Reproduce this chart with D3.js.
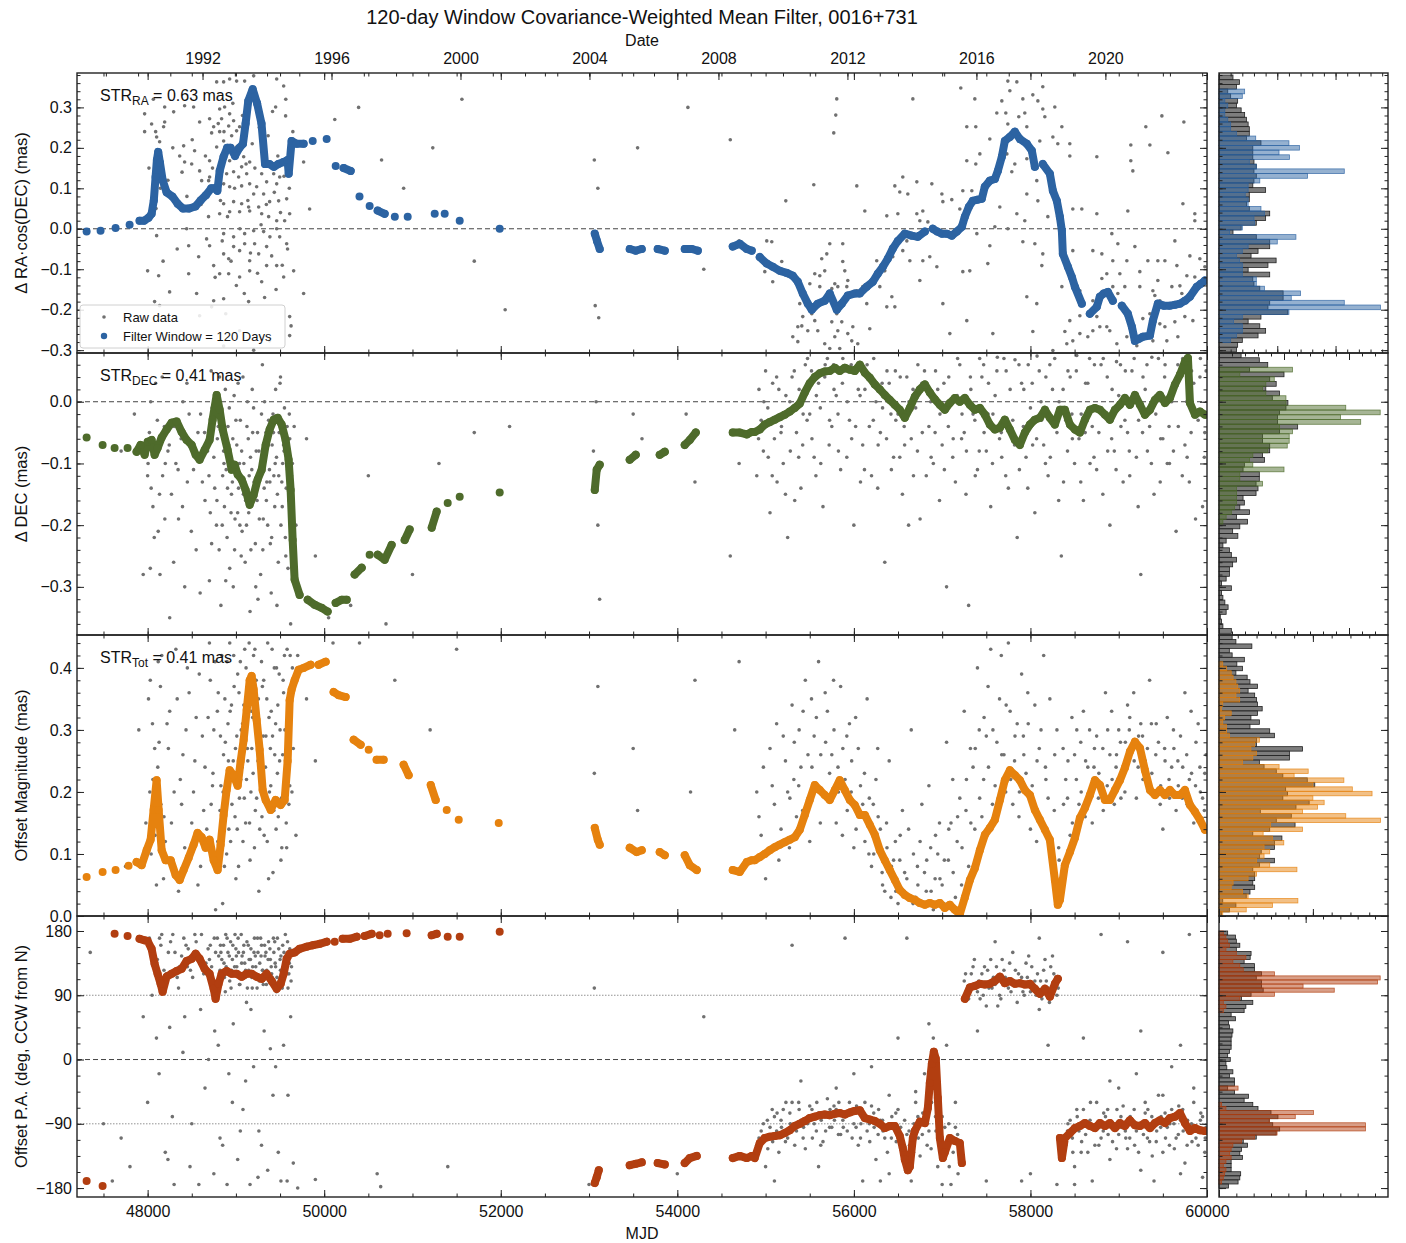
<!DOCTYPE html>
<html>
<head>
<meta charset="utf-8">
<script src="https://cdn.jsdelivr.net/npm/d3@7"></script>
<style>
body { margin: 0; background: #fff; }
svg { font-family: "Liberation Sans", Arial, sans-serif; }
</style>
</head>
<body>
<svg id="chart" width="1406" height="1243"></svg>
<script>
var mjdDomain = [47200, 60000];

// raw offsets, [MJD, value]
var rawRA = [
	[48091,0.24],[48102,0.227],[47966,0.24],[48045,0.259],[48181,0.252],[48193,0.264],[48136,0.215],[48532,0.193],[48408,0.205],[48419,0.165],
	[48499,0.16],[48363,0.18],[48589,0.143],[48612,0.119],[48691,0.119],[48702,0.168],[48816,0.296],[48838,0.272],[48929,0.284],[48974,0.267],
	[49042,0.252],[49008,0.242],[48918,0.254],[48952,0.23],[49099,0.23],[48861,0.217],[48782,0.202],[49008,0.202],[48974,0.185],[49088,0.178],
	[49065,0.153],[48974,0.141],[48895,0.136],[49031,0.128],[49122,0.136],[48861,0.111],[48929,0.104],[49065,0.106],[49156,0.111],[49235,0.104],
	[49348,0.116],[49292,0.136],[49314,0.086],[49428,0.136],[49496,0.128],[49201,0.086],[48974,0.067],[48861,0.062],[49065,0.062],[49144,0.054],
	[49258,0.054],[49382,0.067],[49484,0.069],[49575,0.074],[48816,0.037],[48929,0.042],[49042,0.042],[49156,0.044],[49292,0.037],[49371,0.03],
	[49462,0.02],[49552,0.02],[49609,0.037],[49462,0.111],[49563,0.279],[49450,0.301],[49541,0.353],[49462,0.37],[49201,0.378],[49099,0.365],
	[49008,0.365],[48929,0.37],[48861,0.363],[48782,0.363],[48872,0.301],[48521,0.301],[48419,0.304],[48295,0.289],[48193,0.301],[47966,0.284],
	[48929,0.168],[49156,0.165],[48861,0.168],[48748,0.252],[48725,0.237],[48816,0.24],[48702,0.272],[48589,0.264],[48702,0.128],[49767,0.165],
	[49835,0.049],[48102,-0.017],[48442,0],[48668,-0.025],[48861,-0.012],[48974,-0.02],[49099,-0.012],[49201,-0.005],[49314,-0.007],[49462,0],
	[49496,-0.02],[49348,-0.044],[49212,-0.037],[49099,-0.037],[48974,-0.044],[48861,-0.062],[48578,-0.069],[48465,-0.042],[48702,-0.042],[48748,-0.091],
	[48918,-0.074],[49042,-0.054],[49156,-0.079],[49258,-0.062],[49405,-0.067],[49575,-0.037],[49654,-0.104],[49462,-0.091],[49348,-0.091],[49156,-0.104],
	[49042,-0.119],[48918,-0.111],[48816,-0.111],[48465,-0.111],[48125,-0.116],[48000,-0.104],[48249,-0.156],[48748,-0.178],[48861,-0.173],[49144,-0.18],
	[49292,-0.131],[49541,-0.119],[49609,-0.217],[49767,-0.16],[48725,-0.193],[48079,-0.18],[48136,-0.19],[48589,-0.215],[49042,-0.252],[49382,-0.277],
	[49609,-0.264],[49201,-0.3],[48861,-0.29],
	[48015,0.15],[48065,0.32],[48095,0.05],[48145,0.1],[48175,-0.08],[48230,0.12],[48285,0.2],[48335,-0.05],[48390,0.14],[48445,0.08],
	[48505,0.22],[48555,-0.16],[48605,0.06],[48655,0.18],[48690,0.03],[48735,0.15],[48765,-0.12],[48800,0.26],[48825,0.07],[48845,-0.03],
	[48865,0.24],[48885,-0.21],[48905,0.03],[48925,0.2],[48945,-0.08],[48965,0.31],[48985,0.1],[49005,-0.14],[49025,0.19],[49045,0.0],
	[49075,0.28],[49095,-0.16],[49115,0.16],[49135,0.07],[49165,-0.06],[49185,0.21],[49215,0.15],[49245,-0.11],[49265,0.25],[49285,0.01],
	[49305,0.19],[49325,-0.17],[49345,0.06],[49365,0.23],[49385,-0.02],[49415,0.29],[49435,0.09],[49455,-0.15],[49475,0.18],[49505,0.04],
	[49525,-0.09],[49545,0.13],[49565,0.32],[49585,-0.05],[49605,0.1],[49625,-0.24],[49645,0.24],
	[50120,0.27],[50390,0.3],[50650,0.17],[50900,0.1],[51230,0.2],[51560,0.32],[51700,-0.08],[52050,-0.2],[53060,0.17],[53100,0.1],
	[53070,-0.19],[53110,-0.22],[53550,0.2],[54120,0.3],[54300,-0.1],[54600,0.22],[54700,-0.03],
	[55806,0.321],[55795,0.281],[55772,0.237],[55229,0.069],[55546,0.109],[56033,0.106],[56124,0.044],[56668,0.321],[57211,0.348],[57370,0.321],
	[57744,0.365],[57846,0.363],[57767,0.341],[57676,0.316],[57914,0.321],[58027,0.331],[58140,0.351],[58084,0.316],[58276,0.301],[58140,0.296],
	[57619,0.286],[57721,0.286],[57936,0.286],[57868,0.277],[58163,0.277],[57744,0.259],[57959,0.252],[57279,0.252],[57381,0.252],[58356,0.252],
	[57540,0.222],[58106,0.217],[58254,0.227],[58310,0.21],[58446,0.21],[58446,0.18],[58752,0.178],[59137,0.207],[59353,0.207],[59307,0.252],
	[59489,0.279],[59738,0.264],[59557,0.188],[59137,0.168],[59160,0.143],[57279,0.168],[57427,0.185],[57381,0.16],[57733,0.185],[57823,0.16],
	[57789,0.141],[57959,0.173],[58072,0.119],[57959,0.086],[58084,0.069],[57653,0.054],[57846,0.037],[57936,0.02],[58197,0.03],[58480,0.049],
	[58582,0.049],[58752,0.037],[59103,0.044],[59727,0.062],[59862,0.037],[59862,0.02],[56464,0.106],[56554,0.128],[56713,0.116],[56883,0.111],
	[56520,0.091],[56611,0.086],[56997,0.086],[56373,0.032],[56498,0.037],[56713,0.037],[56781,0.044],[56747,0.02],[56838,0.017],[57008,0.067],
	[57109,0.072],[57200,0.049],[57234,0.094],[57336,0.094],[57257,0.02],[57393,-0.012],[57540,-0.042],[57597,0.005],[57744,0],[57914,-0.032],
	[58050,-0.037],[58140,-0.062],[58129,-0.091],[58480,-0.054],[58707,-0.054],[58809,-0.062],[58990,-0.037],[58922,-0.012],[59183,-0.044],[59636,-0.03],
	[59806,-0.067],[59919,-0.074],[59976,-0.094],[59523,-0.079],[59443,-0.079],[59330,-0.079],[59092,-0.079],[58933,-0.079],[58865,-0.111],[59013,-0.111],
	[59239,-0.106],[59659,-0.091],[59772,-0.116],[59862,-0.119],[59443,-0.128],[59602,-0.143],[59693,-0.141],[59387,-0.153],[59409,-0.165],[59466,-0.178],
	[59715,-0.16],[59273,-0.222],[59353,-0.21],[59387,-0.235],[59466,-0.235],[59523,-0.242],[59636,-0.23],[59749,-0.217],[59840,-0.227],[59670,-0.267],
	[59545,-0.277],[59387,-0.277],[59205,-0.289],[59092,-0.267],[58979,-0.284],[58899,-0.252],[58865,-0.242],[58786,-0.242],[58707,-0.252],[58650,-0.267],
	[58560,-0.259],[58480,-0.277],[58390,-0.254],[58446,-0.227],[58560,-0.215],[58752,-0.217],[58412,-0.284],[58254,-0.301],[58707,-0.178],[58560,-0.153],
	[58469,-0.128],[58809,-0.123],[58933,-0.143],[59069,-0.143],[59239,-0.143],[58990,-0.16],[58356,-0.143],[57574,-0.259],[58027,-0.254],[57959,-0.168],
	[58072,-0.185],[57279,-0.227],[57087,-0.259],[57234,-0.106],[57313,-0.104],[57517,-0.086],[57008,-0.185],[56747,-0.128],[56940,-0.094],[56860,-0.069],
	[56781,-0.079],[56634,-0.079],[56554,-0.054],[56600,-0.03],[56747,-0.02],[56441,-0.069],[56350,-0.104],[56259,-0.079],[56214,-0.136],[56294,-0.143],
	[56430,-0.168],[56464,-0.193],[56373,-0.193],[56146,-0.185],[56101,-0.143],[56033,-0.153],[55931,-0.128],[55920,-0.143],[55897,-0.104],[55874,-0.081],
	[55784,-0.136],[55750,-0.148],[55818,-0.143],[55840,-0.193],[55806,-0.21],[55863,-0.23],[55750,-0.23],[55818,-0.252],[55784,-0.267],[55840,-0.296],
	[55727,-0.296],[55670,-0.284],[55591,-0.252],[55557,-0.227],[55523,-0.21],[55580,-0.193],[55614,-0.143],[55614,-0.116],[55557,-0.111],[55501,-0.136],
	[55636,-0.074],[55693,-0.062],[55727,-0.037],[55874,-0.037],[55670,-0.104],[55410,-0.24],[55365,-0.242],[55478,-0.252],[55308,-0.267],[55365,-0.279],
	[55976,-0.277],[56044,-0.284],[56180,-0.247],[55988,-0.242],[55931,-0.259],[55421,-0.217],[55387,-0.185],[55251,-0.116],[55183,-0.081],[55081,-0.131],
	[55013,-0.03],[55070,-0.032],[54991,-0.106]
];

var rawDEC = [
	[47700,-0.08],[47850,-0.02],[47950,-0.28],[48000,-0.12],[48030,-0.27],[48060,-0.17],[48090,0.03],[48120,-0.21],[48150,-0.06],[48200,-0.1],
	[48250,-0.35],[48300,-0.04],[48350,-0.19],[48400,0.0],[48450,-0.13],[48500,-0.07],[48550,-0.24],[48600,-0.02],[48650,-0.16],[48700,-0.29],
	[48720,0.05],[48750,-0.09],[48780,-0.2],[48800,-0.04],[48830,-0.33],[48850,-0.12],[48880,0.02],[48900,-0.22],[48920,-0.07],[48950,-0.15],
	[48970,-0.3],[49000,-0.03],[49020,-0.18],[49040,-0.1],[49060,-0.25],[49080,0.04],[49100,-0.13],[49120,-0.2],[49140,-0.06],[49160,-0.34],
	[49180,-0.11],[49200,-0.01],[49220,-0.23],[49240,-0.16],[49260,-0.08],[49280,-0.28],[49300,0.06],[49320,-0.14],[49340,-0.05],[49360,-0.2],
	[49380,-0.11],[49400,-0.31],[49420,-0.02],[49440,-0.17],[49460,-0.09],[49480,-0.26],[49500,0.03],[49520,-0.13],[49540,-0.07],[49560,-0.22],
	[49580,-0.04],[49600,-0.16],[49620,-0.36],[49640,-0.1],[49700,-0.3],[49800,-0.06],
	[48020,-0.05],[48040,-0.14],[48070,-0.09],[48110,-0.03],[48140,-0.28],[48170,-0.12],[48190,-0.04],[48230,-0.08],[48270,-0.15],[48320,-0.1],
	[48380,-0.06],[48420,-0.3],[48470,-0.02],[48520,-0.11],[48570,-0.05],[48620,-0.13],[48680,-0.08],[48710,-0.18],[48730,-0.01],[48760,-0.14],
	[48790,-0.06],[48810,-0.24],[48840,-0.02],[48860,-0.08],[48870,-0.17],[48890,-0.11],[48910,-0.04],[48930,-0.27],[48940,-0.09],[48960,-0.13],
	[48980,0.01],[48990,-0.19],[49010,-0.07],[49030,-0.14],[49050,-0.03],[49070,-0.21],[49090,-0.1],[49110,-0.16],[49130,0.0],[49150,-0.12],
	[49170,-0.24],[49190,-0.05],[49210,-0.15],[49230,-0.08],[49250,-0.32],[49270,-0.12],[49290,-0.02],[49310,-0.19],[49330,-0.09],[49350,-0.13],
	[49370,-0.03],[49390,-0.23],[49410,-0.07],[49430,-0.12],[49450,0.02],[49470,-0.15],[49490,-0.05],[49510,-0.2],[49530,-0.1],[49550,-0.01],
	[49570,-0.14],[49590,-0.27],[49610,-0.06],[49630,-0.12],[49660,-0.04],[49680,-0.2],
	[48005,-0.1],[48035,0.0],[48075,-0.22],[48105,-0.08],[48135,-0.15],[48165,0.04],[48195,-0.19],[48245,-0.07],[48295,-0.26],[48345,-0.11],
	[48395,-0.17],[48445,0.03],[48495,-0.21],[48545,-0.09],[48595,-0.31],[48645,-0.05],[48695,-0.12],[48725,-0.23],[48755,-0.03],[48785,-0.16],
	[48815,0.04],[48845,-0.2],[48865,-0.1],[48885,-0.29],[48905,-0.14],[48925,-0.01],[48945,-0.18],[48965,-0.06],[48985,-0.24],[49005,-0.12],
	[49025,0.03],[49045,-0.2],[49065,-0.08],[49085,-0.15],[49105,-0.26],[49125,-0.04],[49145,-0.18],[49165,-0.09],[49185,0.02],[49205,-0.13],
	[49225,-0.3],[49245,-0.05],[49265,-0.19],[49285,-0.1],[49305,-0.24],[49325,0.0],[49345,-0.16],[49365,-0.07],[49385,-0.13],[49405,-0.22],
	[49425,-0.05],[49445,-0.1],[49465,-0.33],[49485,-0.12],[49505,0.04],[49525,-0.17],[49545,-0.08],[49565,-0.25],[49585,-0.11],[49605,-0.02],
	[49625,-0.19],
	[50300,-0.33],[50700,-0.36],[51300,-0.1],[52100,-0.04],[53050,-0.08],[53100,-0.2],[53500,-0.02],[54200,-0.13],[54600,-0.25],
	[49900,-0.25],[50050,-0.35],[50500,-0.12],[51000,-0.28],[51700,-0.05],[53080,0.0],[53120,-0.32],[53600,-0.06],[54100,-0.02],[54700,-0.1],
	[54900,-0.12],[54950,-0.03],[55000,0.05],[55050,-0.18],[55100,-0.06],[55150,0.02],[55200,-0.1],[55250,-0.22],[55300,0.04],[55350,-0.05],
	[55400,-0.14],[55450,0.06],[55500,-0.02],[55550,-0.09],[55600,0.03],[55650,-0.17],[55700,0.07],[55750,-0.04],[55800,0.01],[55850,-0.11],
	[55900,0.05],[55950,-0.03],[56000,-0.2],[56050,0.02],[56100,-0.07],[56150,0.06],[56200,-0.12],[56250,0.0],[56300,-0.05],[56350,-0.26],
	[56400,0.03],[56450,-0.09],[56500,-0.02],[56550,-0.15],[56600,0.04],[56650,-0.06],[56700,-0.01],[56750,-0.19],[56800,0.05],[56850,-0.04],
	[56900,-0.1],[56950,0.02],[57000,-0.07],[57050,-0.3],[57100,0.0],[57150,-0.13],[57200,0.06],[57250,-0.05],[57300,-0.33],[57350,-0.02],
	[57400,-0.11],[57450,0.04],[57500,-0.08],[57550,-0.17],[57600,0.01],[57650,-0.06],[57700,0.07],[57750,-0.14],[57800,-0.03],[57850,-0.22],
	[57900,0.03],[57950,-0.09],[58000,-0.01],[58050,-0.18],[58100,0.05],[58150,-0.07],[58200,-0.12],[58250,0.02],[58300,-0.05],[58350,-0.25],
	[58400,-0.03],[58450,0.04],[58500,-0.1],[58550,-0.06],[58600,-0.16],[58650,0.03],[58700,-0.04],[58750,-0.11],[58800,0.06],[58850,-0.02],
	[58900,-0.2],[58950,-0.08],[59000,0.01],[59050,-0.13],[59100,-0.05],[59150,0.05],[59200,-0.09],[59250,-0.28],[59300,0.02],[59350,-0.04],
	[59400,-0.15],[59450,0.07],[59500,-0.06],[59550,-0.1],[59600,0.0],[59650,-0.21],[59700,0.04],[59750,-0.07],[59800,-0.13],[59850,0.03],
	[59900,-0.03],[59950,-0.17],[59990,0.05],
	[54920,-0.06],[54980,0.0],[55030,-0.09],[55080,0.03],[55130,-0.13],[55180,-0.04],[55230,0.01],[55280,-0.08],[55330,-0.16],[55380,0.02],
	[55420,-0.07],[55470,-0.03],[55520,0.05],[55570,-0.12],[55620,-0.01],[55670,0.04],[55720,-0.07],[55770,0.06],[55820,-0.02],[55870,0.03],
	[55920,-0.09],[55970,0.06],[56020,-0.04],[56070,0.01],[56120,-0.11],[56170,0.04],[56220,-0.03],[56270,-0.14],[56320,0.03],[56370,-0.06],
	[56420,-0.02],[56470,0.05],[56520,-0.09],[56570,-0.04],[56620,-0.2],[56670,0.02],[56720,-0.08],[56770,0.03],[56820,-0.12],[56870,0.0],
	[56920,-0.05],[56970,-0.16],[57020,0.03],[57070,-0.04],[57120,-0.09],[57170,0.01],[57220,-0.06],[57270,-0.15],[57320,0.04],[57370,-0.03],
	[57420,-0.08],[57470,0.06],[57520,-0.02],[57570,-0.1],[57620,0.05],[57670,-0.05],[57720,-0.12],[57770,0.02],[57820,-0.07],[57870,0.06],
	[57920,-0.04],[57970,-0.14],[58020,0.03],[58070,-0.06],[58120,0.0],[58170,-0.1],[58220,0.06],[58270,-0.03],[58320,-0.16],[58370,0.02],
	[58420,-0.08],[58470,-0.02],[58520,0.05],[58570,-0.13],[58620,-0.05],[58670,0.07],[58720,-0.09],[58770,-0.01],[58820,-0.15],[58870,0.04],
	[58920,-0.06],[58970,-0.11],[59020,0.06],[59070,-0.03],[59120,-0.08],[59170,0.0],[59220,-0.17],[59270,-0.05],[59320,0.06],[59370,-0.1],
	[59420,-0.02],[59470,-0.13],[59520,0.04],[59570,-0.04],[59620,-0.08],[59670,0.06],[59720,-0.12],[59770,0.0],[59820,-0.05],[59870,-0.19],
	[59920,0.04],[59970,-0.09],
	[54925,0.02],[54975,-0.08],[55025,-0.01],[55075,-0.12],[55125,0.04],[55175,-0.05],[55225,-0.15],[55275,0.0],[55325,0.05],[55375,-0.09],
	[55425,-0.02],[55475,0.07],[55525,-0.06],[55575,0.01],[55625,-0.1],[55675,0.06],[55725,-0.03],[55775,0.02],[55825,-0.08],[55875,0.07],
	[55925,0.0],[55975,-0.06],[56025,0.05],[56075,-0.13],[56125,0.02],[56175,-0.04],[56225,0.07],[56275,-0.07],[56325,-0.01],[56375,0.05],
	[56425,-0.11],[56475,-0.03],[56525,0.04],[56575,-0.07],[56625,0.0],[56675,-0.12],[56725,0.06],[56775,-0.05],[56825,0.02],[56875,-0.09],
	[56925,0.05],[56975,-0.02],[57025,-0.11],[57075,0.04],[57125,-0.06],[57175,0.07],[57225,-0.02],[57275,-0.08],[57325,0.02],[57375,-0.12],
	[57425,0.07],[57475,-0.05],[57525,0.03],[57575,-0.02],[57625,0.072],[57675,-0.09],[57725,0.05],[57775,-0.04],[57825,0.068],[57875,-0.11],
	[57925,0.02],[57975,0.06],[58025,-0.07],[58075,0.074],[58125,-0.03],[58175,0.04],[58225,-0.09],[58275,0.07],[58325,0.0],[58375,-0.13],
	[58425,0.05],[58475,-0.06],[58525,0.075],[58575,-0.02],[58625,0.03],[58675,-0.1],[58725,0.06],[58775,-0.05],[58825,0.07],[58875,-0.08],
	[58925,0.02],[58975,0.065],[59025,-0.04],[59075,0.05],[59125,-0.12],[59175,0.07],[59225,-0.03],[59275,0.04],[59325,-0.08],[59375,0.072],
	[59425,0.01],[59475,-0.06],[59525,0.06],[59575,-0.1],[59625,0.03],[59675,-0.04],[59725,0.07],[59775,-0.09],[59825,0.05],[59875,-0.02],
	[59925,0.07],[59975,-0.05]
];

var rawMag = [
	[47750,0.08],[47900,0.3],[47980,0.15],[48030,0.38],[48060,0.22],[48100,0.05],[48130,0.28],[48160,0.42],[48200,0.12],[48250,0.33],
	[48300,0.2],[48350,0.04],[48400,0.26],[48450,0.4],[48500,0.15],[48550,0.32],[48600,0.08],[48650,0.24],[48700,0.44],[48720,0.18],
	[48750,0.3],[48780,0.1],[48800,0.36],[48830,0.21],[48850,0.02],[48880,0.28],[48900,0.41],[48920,0.14],[48950,0.34],[48970,0.25],
	[49000,0.06],[49020,0.39],[49040,0.19],[49060,0.3],[49080,0.12],[49100,0.43],[49120,0.22],[49140,0.35],[49160,0.09],[49180,0.27],
	[49200,0.42],[49220,0.17],[49240,0.31],[49260,0.04],[49280,0.24],[49300,0.37],[49320,0.13],[49340,0.29],[49360,0.44],[49380,0.2],
	[49400,0.33],[49420,0.07],[49440,0.26],[49460,0.4],[49480,0.16],[49500,0.3],[49520,0.11],[49540,0.36],[49560,0.23],[49580,0.43],
	[49600,0.18],[49620,0.32],[49650,0.27],[49700,0.42],[49800,0.35],
	[48010,0.35],[48040,0.1],[48080,0.27],[48120,0.41],[48150,0.18],[48180,0.06],[48220,0.31],[48270,0.15],[48320,0.43],[48370,0.22],
	[48420,0.11],[48470,0.36],[48520,0.2],[48570,0.05],[48620,0.29],[48670,0.14],[48710,0.38],[48740,0.23],[48770,0.01],[48790,0.33],
	[48820,0.17],[48840,0.42],[48860,0.26],[48870,0.08],[48890,0.19],[48910,0.31],[48930,0.44],[48940,0.12],[48960,0.22],[48980,0.37],
	[48990,0.16],[49010,0.29],[49030,0.08],[49050,0.41],[49070,0.24],[49090,0.34],[49110,0.15],[49130,0.27],[49150,0.44],[49170,0.2],
	[49190,0.32],[49210,0.11],[49230,0.38],[49250,0.25],[49270,0.14],[49290,0.41],[49310,0.29],[49330,0.2],[49350,0.35],[49370,0.06],
	[49390,0.27],[49410,0.43],[49430,0.17],[49450,0.31],[49470,0.23],[49490,0.39],[49510,0.09],[49530,0.26],[49550,0.42],[49570,0.15],
	[49590,0.34],[49610,0.21],[49640,0.4],[49680,0.13],
	[48025,0.2],[48055,0.31],[48085,0.13],[48115,0.24],[48145,0.37],[48185,0.16],[48235,0.27],[48285,0.09],[48335,0.35],[48385,0.18],
	[48435,0.3],[48485,0.1],[48535,0.25],[48585,0.39],[48635,0.17],[48685,0.32],[48735,0.21],[48765,0.41],[48795,0.12],[48825,0.29],
	[48855,0.2],[48875,0.35],[48895,0.1],[48915,0.25],[48935,0.33],[48955,0.18],[48975,0.42],[48995,0.27],[49015,0.14],[49035,0.36],
	[49055,0.22],[49075,0.31],[49095,0.19],[49115,0.4],[49135,0.25],[49155,0.15],[49175,0.33],[49195,0.23],[49215,0.43],[49235,0.19],
	[49255,0.35],[49275,0.28],[49295,0.16],[49315,0.38],[49335,0.24],[49355,0.12],[49375,0.32],[49395,0.21],[49415,0.29],[49435,0.4],
	[49455,0.14],[49475,0.34],[49495,0.25],[49515,0.19],[49535,0.38],[49555,0.3],[49575,0.11],[49595,0.28],[49615,0.42],[49635,0.2],
	[50400,0.44],[51500,0.43],[53060,0.23],[53100,0.37],[53500,0.27],[54200,0.38],[54650,0.3],
	[49900,0.25],[50100,0.44],[50800,0.38],[51200,0.3],[53120,0.12],[53550,0.17],[54150,0.2],[54700,0.41],
	[54950,0.13],[55050,0.27],[55150,0.09],[55250,0.2],[55300,0.34],[55350,0.16],[55400,0.24],[55450,0.38],[55500,0.12],[55550,0.29],
	[55600,0.41],[55650,0.2],[55700,0.33],[55750,0.26],[55800,0.15],[55850,0.37],[55900,0.22],[55950,0.31],[56000,0.11],[56050,0.27],
	[56100,0.18],[56150,0.35],[56200,0.08],[56250,0.22],[56300,0.14],[56350,0.04],[56400,0.25],[56450,0.09],[56500,0.02],[56550,0.17],
	[56600,0.06],[56650,0.3],[56700,0.03],[56750,0.12],[56800,0.07],[56850,0.21],[56900,0.01],[56950,0.1],[57000,0.05],[57050,0.28],
	[57100,0.15],[57150,0.03],[57200,0.19],[57250,0.33],[57300,0.08],[57350,0.24],[57400,0.4],[57450,0.16],[57500,0.29],[57550,0.43],
	[57600,0.21],[57650,0.35],[57700,0.26],[57750,0.44],[57800,0.18],[57850,0.31],[57900,0.39],[57950,0.23],[58000,0.14],[58050,0.34],
	[58100,0.27],[58150,0.42],[58200,0.19],[58250,0.08],[58300,0.3],[58350,0.04],[58400,0.22],[58450,0.13],[58500,0.26],[58550,0.18],
	[58600,0.33],[58650,0.24],[58700,0.15],[58750,0.29],[58800,0.21],[58850,0.36],[58900,0.26],[58950,0.18],[59000,0.3],[59050,0.23],
	[59100,0.34],[59150,0.27],[59200,0.19],[59250,0.31],[59300,0.25],[59350,0.38],[59400,0.2],[59450,0.28],[59500,0.14],[59550,0.32],
	[59600,0.24],[59650,0.17],[59700,0.29],[59750,0.36],[59800,0.22],[59850,0.15],[59900,0.31],[59950,0.19],[59990,0.26],
	[54900,0.2],[55000,0.06],[55100,0.18],[55200,0.29],[55270,0.11],[55320,0.22],[55380,0.3],[55420,0.17],[55480,0.26],[55520,0.35],
	[55570,0.21],[55620,0.15],[55680,0.28],[55720,0.19],[55770,0.38],[55820,0.24],[55870,0.13],[55920,0.29],[55970,0.2],[56020,0.32],
	[56070,0.16],[56120,0.23],[56170,0.1],[56220,0.18],[56270,0.27],[56320,0.07],[56370,0.15],[56420,0.03],[56470,0.12],[56520,0.09],
	[56570,0.04],[56620,0.14],[56670,0.02],[56720,0.08],[56770,0.18],[56820,0.04],[56870,0.11],[56920,0.06],[56970,0.15],[57020,0.02],
	[57070,0.09],[57120,0.22],[57170,0.12],[57220,0.05],[57270,0.17],[57320,0.27],[57370,0.14],[57420,0.3],[57470,0.22],[57520,0.37],
	[57570,0.18],[57620,0.28],[57670,0.42],[57720,0.2],[57770,0.33],[57820,0.25],[57870,0.16],[57920,0.29],[57970,0.36],[58020,0.21],
	[58070,0.12],[58120,0.3],[58170,0.24],[58220,0.35],[58270,0.17],[58320,0.11],[58370,0.27],[58420,0.19],[58470,0.32],[58520,0.22],
	[58570,0.28],[58620,0.16],[58670,0.3],[58720,0.24],[58770,0.19],[58820,0.27],[58870,0.21],[58920,0.33],[58970,0.24],[59020,0.28],
	[59070,0.2],[59120,0.3],[59170,0.36],[59220,0.24],[59270,0.29],[59320,0.21],[59370,0.31],[59420,0.26],[59470,0.18],[59520,0.27],
	[59570,0.22],[59620,0.3],[59670,0.25],[59720,0.19],[59770,0.26],[59820,0.33],[59870,0.21],[59920,0.24],[59970,0.17],
	[54925,0.16],[54975,0.24],[55025,0.1],[55075,0.21],[55125,0.31],[55175,0.14],[55225,0.25],[55275,0.19],[55325,0.28],[55375,0.21],
	[55425,0.33],[55475,0.18],[55525,0.24],[55575,0.32],[55625,0.26],[55675,0.36],[55725,0.23],[55775,0.3],[55825,0.2],[55875,0.27],
	[55925,0.17],[55975,0.25],[56025,0.14],[56075,0.21],[56125,0.12],[56175,0.19],[56225,0.1],[56275,0.16],[56325,0.05],[56375,0.11],
	[56425,0.08],[56475,0.04],[56525,0.13],[56575,0.07],[56625,0.03],[56675,0.1],[56725,0.05],[56775,0.02],[56825,0.09],[56875,0.04],
	[56925,0.13],[56975,0.06],[57025,0.09],[57075,0.14],[57125,0.07],[57175,0.16],[57225,0.11],[57275,0.22],[57325,0.15],[57375,0.27],
	[57425,0.19],[57475,0.32],[57525,0.24],[57575,0.3],[57625,0.17],[57675,0.26],[57725,0.34],[57775,0.22],[57825,0.29],[57875,0.2],
	[57925,0.26],[57975,0.31],[58025,0.18],[58075,0.25],[58125,0.15],[58175,0.22],[58225,0.12],[58275,0.26],[58325,0.09],[58375,0.18],
	[58425,0.25],[58475,0.15],[58525,0.3],[58575,0.2],[58625,0.25],[58675,0.19],[58725,0.27],[58775,0.23],[58825,0.17],[58875,0.3],
	[58925,0.22],[58975,0.26],[59025,0.19],[59075,0.28],[59125,0.32],[59175,0.25],[59225,0.29],[59275,0.22],[59325,0.27],[59375,0.23],
	[59425,0.31],[59475,0.21],[59525,0.25],[59575,0.19],[59625,0.27],[59675,0.21],[59725,0.24],[59775,0.18],[59825,0.23],[59875,0.28],
	[59925,0.2],[59975,0.23]
];

var rawPA = [
	[47350,150],[47500,-90],[47600,-170],[47700,-110],[47800,-150],[47950,60],[48000,-60],[48050,90],[48100,30],[48150,160],
	[48200,-130],[48250,45],[48300,-175],[48350,100],[48400,10],[48450,130],[48500,-90],[48550,165],[48600,70],[48650,-40],
	[48700,140],[48750,-160],[48780,110],[48800,20],[48830,150],[48850,-120],[48880,95],[48900,170],[48920,-20],[48950,125],
	[48970,50],[49000,155],[49020,-140],[49040,105],[49060,175],[49080,-70],[49100,135],[49120,80],[49140,160],[49160,-175],
	[49180,115],[49200,-10],[49220,145],[49240,100],[49260,-100],[49280,170],[49300,125],[49320,40],[49340,150],[49360,-155],
	[49380,110],[49400,130],[49420,-50],[49440,165],[49460,95],[49480,-130],[49500,140],[49520,115],[49540,20],[49560,175],
	[49580,-170],[49600,120],[49620,60],[49650,-145],[49700,-180],[49900,-168],
	[48020,170],[48060,150],[48110,140],[48160,175],[48210,120],[48260,165],[48310,150],[48360,130],[48410,170],[48460,155],
	[48510,115],[48560,145],[48610,175],[48660,135],[48710,160],[48740,105],[48770,150],[48790,170],[48820,125],[48840,140],
	[48860,160],[48870,115],[48890,130],[48910,150],[48930,110],[48940,165],[48960,140],[48980,120],[48990,175],[49010,130],
	[49030,150],[49050,115],[49070,145],[49090,160],[49110,125],[49130,100],[49150,140],[49170,155],[49190,130],[49210,170],
	[49230,115],[49250,150],[49270,135],[49290,160],[49310,105],[49330,145],[49350,125],[49370,165],[49390,140],[49410,115],
	[49430,150],[49450,130],[49470,170],[49490,110],[49510,145],[49530,160],[49550,125],[49570,140],[49590,100],[49610,155],
	[49630,130],
	[48035,160],[48085,135],[48135,170],[48185,125],[48235,150],[48285,175],[48335,115],[48385,145],[48435,160],[48485,125],
	[48535,175],[48585,140],[48635,120],[48685,155],[48725,130],[48755,170],[48785,100],[48805,145],[48825,160],[48845,115],
	[48865,135],[48885,175],[48905,120],[48925,145],[48945,100],[48965,160],[48985,130],[49005,145],[49025,170],[49045,105],
	[49065,135],[49085,150],[49105,115],[49125,165],[49145,125],[49165,140],[49185,100],[49205,150],[49225,130],[49245,170],
	[49265,110],[49285,145],[49305,125],[49325,160],[49345,105],[49365,140],[49385,155],[49405,120],[49425,170],[49445,135],
	[49465,115],[49485,155],[49505,125],[49525,100],[49545,150],[49565,120],[49585,165],[49605,135],[49625,110],
	[48130,-20],[48280,-80],[48480,-150],[48690,0],[48820,-110],[48960,-60],[49110,-30],[49170,70],[49290,-120],[49390,15],
	[49510,-170],[49590,-50],[48580,-175],[48900,-175],[49250,-165],[49050,-100],[48420,60],[48230,-140],[49450,-10],[48760,40],
	[50600,-160],[50640,-178],[51400,-150],[53000,-175],[53060,100],[54000,-160],[54300,60],
	[54900,-120],[55000,-150],[55050,-95],[55100,-80],[55150,-130],[55200,-70],[55250,-110],[55300,-60],[55350,-100],[55400,-85],
	[55450,-125],[55500,-65],[55550,-90],[55600,-75],[55650,-115],[55700,-55],[55750,-95],[55800,-70],[55850,-105],[55900,-80],
	[55950,-60],[56000,-90],[56050,-120],[56100,-75],[56150,-100],[56200,-65],[56250,-140],[56300,-85],[56350,-110],[56400,-160],
	[56450,-95],[56500,-70],[56550,-130],[56600,-105],[56650,-170],[56700,-60],[56750,-135],[56800,-20],[56850,-100],[56900,30],
	[56950,-150],[57000,-80],[57050,-120],[57100,-175],[57150,-95],[57200,-140],
	[54950,-100],[55020,-85],[55080,-115],[55130,-75],[55180,-95],[55230,-60],[55280,-90],[55330,-120],[55380,-70],[55430,-95],
	[55480,-80],[55530,-110],[55580,-60],[55630,-85],[55680,-100],[55730,-70],[55780,-85],[55830,-60],[55880,-95],[55930,-75],
	[55980,-110],[56030,-65],[56080,-90],[56130,-80],[56180,-115],[56230,-95],[56280,-70],[56330,-100],[56380,-130],[56430,-80],
	[56480,-115],[56530,-95],[56580,-150],[56630,-120],[56680,-90],[56730,-110],[56780,-75],[56830,-120],[56880,-60],[56930,-100],
	[56980,-130],[57030,-95],[57080,-150],[57130,-115],[57180,-160],
	[54925,-110],[54975,-90],[55025,-125],[55075,-70],[55125,-100],[55175,-85],[55225,-115],[55275,-75],[55325,-95],[55375,-60],
	[55425,-110],[55475,-90],[55525,-70],[55575,-100],[55625,-120],[55675,-80],[55725,-95],[55775,-65],[55825,-105],[55875,-85],
	[55925,-100],[55975,-70],[56025,-95],[56075,-110],[56125,-60],[56175,-90],[56225,-75],[56275,-105],[56325,-85],[56375,-95],
	[56425,-110],[56475,-75],[56525,-120],[56575,-85],[56625,-100],[56675,-130],[56725,-80],[56775,-105],[56825,-90],[56875,-125],
	[56925,-80],[56975,-110],[57025,-140],[57075,-90],[57125,-130],[57175,-105],[57215,-125],
	[55100,-170],[55600,-150],[56000,-20],[56300,-170],[56500,30],[56700,-45],[56850,50],[57050,20],[56200,-10],[57150,-60],
	[55300,160],[55900,170],[56100,-170],[56600,170],[57000,-175],[57500,-170],[58000,-160],[58300,-175],[58800,175],[59100,165],
	[59500,150],[59800,175],[58600,30],[59250,40],[59700,20],[55400,-30],[55800,-40],[56400,-50],
	[57250,110],[57300,85],[57350,130],[57400,95],[57450,120],[57500,75],[57550,140],[57600,105],[57650,90],[57700,125],
	[57750,100],[57800,150],[57850,80],[57900,115],[57950,135],[58000,95],[58050,110],[58100,70],[58150,125],[58200,100],
	[58250,145],[58300,90],
	[57270,95],[57330,120],[57380,105],[57430,85],[57480,130],[57530,100],[57580,115],[57630,75],[57680,140],[57730,110],
	[57780,95],[57830,125],[57880,105],[57930,90],[57980,145],[58030,100],[58080,120],[58130,85],[58180,110],[58230,130],
	[58280,100],[58330,115],
	[57265,120],[57315,100],[57365,140],[57415,110],[57465,90],[57515,125],[57565,100],[57615,130],[57665,85],[57715,115],
	[57765,135],[57815,105],[57865,120],[57915,95],[57965,115],[58015,130],[58065,90],[58115,110],[58165,140],[58215,80],
	[58265,120],[58315,100],
	[57400,40],[57600,165],[57900,-170],[58100,170],[58200,20],
	[58400,-120],[58450,-85],[58500,-150],[58550,-100],[58600,-70],[58650,-130],[58700,-95],[58750,-60],[58800,-110],[58850,-80],
	[58900,-140],[58950,-90],[59000,-105],[59050,-65],[59100,-125],[59150,-85],[59200,-100],[59250,-155],[59300,-75],[59350,-115],
	[59400,-90],[59450,-50],[59500,-130],[59550,-95],[59600,-70],[59650,-110],[59700,-85],[59750,-145],[59800,-100],[59850,-60],
	[59900,-120],[59950,-80],[59990,-95],
	[58420,-100],[58480,-130],[58530,-80],[58580,-115],[58630,-90],[58680,-60],[58730,-120],[58780,-95],[58830,-75],[58880,-105],
	[58930,-115],[58980,-70],[59030,-95],[59080,-110],[59130,-80],[59180,-120],[59230,-90],[59280,-105],[59330,-70],[59380,-135],
	[59430,-100],[59480,-80],[59530,-110],[59580,-90],[59630,-125],[59680,-65],[59730,-100],[59780,-85],[59830,-115],[59880,-95],
	[59930,-75],[59980,-110],
	[58425,-90],[58475,-110],[58525,-70],[58575,-130],[58625,-105],[58675,-85],[58725,-95],[58775,-120],[58825,-100],[58875,-70],
	[58925,-90],[58975,-125],[59025,-80],[59075,-100],[59125,-110],[59175,-70],[59225,-130],[59275,-90],[59325,-110],[59375,-80],
	[59425,-115],[59475,-95],[59525,-75],[59575,-120],[59625,-90],[59675,-105],[59725,-70],[59775,-120],[59825,-90],[59875,-110],
	[59925,-85],[59975,-130],
	[58500,-175],[58700,-170],[59000,-40],[59200,-20],[59400,-170],[59600,-10],[59700,-160],[59850,-40],[59950,-165],[58900,-30],
	[59300,-60],[59500,-50]
];

// 120-day filtered series, [MJD, value]
var filtRA = [
	[47309,-0.007],[47467,-0.005],[47637,0.002],[47796,0.01],
	[47909,0.02],[47960,0.02],[48010,0.027],[48045,0.037],[48070,0.07],[48090,0.128],[48105,0.17],[48120,0.19],[48140,0.163],[48170,0.12],
	[48215,0.09],[48280,0.08],[48340,0.062],[48400,0.05],[48470,0.05],[48540,0.055],[48600,0.07],[48660,0.083],[48720,0.1],[48760,0.1],
	[48790,0.094],[48816,0.143],[48860,0.178],[48900,0.2],[48940,0.2],[48990,0.18],[49040,0.2],[49080,0.21],[49110,0.26],[49140,0.316],
	[49190,0.345],[49240,0.31],[49290,0.26],[49330,0.16],[49380,0.16],[49430,0.153],[49480,0.16],[49540,0.165],[49585,0.17],[49598,0.136],
	[49631,0.217],[49688,0.21],[49767,0.21],[49870,0.217],[50028,0.222],
	[50130,0.155],[50220,0.15],[50300,0.143],[50400,0.08],[50515,0.056],[50606,0.045],[50685,0.037],[50800,0.03],[50946,0.03],[51252,0.037],
	[51365,0.037],[51535,0.02],[51988,0.0],
	[53065,-0.012],[53090,-0.03],[53121,-0.05],[53461,-0.05],[53529,-0.054],[53597,-0.05],[53778,-0.05],[53858,-0.054],[54084,-0.05],[54164,-0.05],
	[54232,-0.054],[54628,-0.044],[54707,-0.037],[54787,-0.05],[54843,-0.054],
	[54934,-0.07],[55013,-0.086],[55081,-0.094],[55161,-0.104],[55240,-0.109],[55308,-0.116],[55365,-0.131],[55421,-0.16],[55478,-0.185],[55523,-0.2],
	[55591,-0.185],[55670,-0.178],[55727,-0.16],[55806,-0.2],[55863,-0.185],[55931,-0.165],[56010,-0.16],[56067,-0.16],[56146,-0.143],[56214,-0.131],
	[56271,-0.111],[56328,-0.094],[56384,-0.074],[56441,-0.049],[56498,-0.03],[56577,-0.012],[56656,-0.017],[56724,-0.02],[56804,-0.007],[56894,0],
	[56945,-0.007],[56996,-0.012],[57053,-0.012],[57109,-0.017],[57166,-0.007],[57223,0.005],[57257,0.03],[57302,0.054],[57347,0.069],[57400,0.072],
	[57449,0.074],[57483,0.104],[57540,0.119],[57597,0.123],[57631,0.143],[57676,0.178],[57710,0.217],[57767,0.227],[57823,0.24],[57880,0.222],
	[57959,0.21],[58016,0.193],[58050,0.153],[58140,0.16],[58220,0.136],[58254,0.094],[58299,0.069],[58333,0.03],[58356,-0.005],[58367,-0.062],
	[58424,-0.094],[58469,-0.119],[58503,-0.143],[58582,-0.185],[58673,-0.21],[58752,-0.193],[58786,-0.168],[58830,-0.16],[58877,-0.156],[58933,-0.178],
	[59035,-0.19],[59103,-0.21],[59149,-0.242],[59183,-0.277],[59228,-0.272],[59273,-0.267],[59353,-0.264],[59387,-0.227],[59443,-0.185],[59510,-0.19],
	[59579,-0.19],[59636,-0.188],[59693,-0.185],[59750,-0.178],[59806,-0.168],[59885,-0.143],[59930,-0.136],[59976,-0.128]
];

var filtDEC = [
	[47309,-0.058],[47490,-0.07],[47626,-0.075],[47773,-0.075],[47875,-0.081],[47920,-0.07],[47966,-0.086],[48000,-0.065],[48045,-0.062],[48079,-0.086],
	[48113,-0.075],[48159,-0.058],[48215,-0.045],[48272,-0.034],[48329,-0.032],[48385,-0.049],[48442,-0.062],[48499,-0.07],[48544,-0.086],[48589,-0.094],
	[48646,-0.078],[48702,-0.062],[48736,-0.029],[48782,0.011],[48816,-0.013],[48850,-0.045],[48906,-0.078],[48952,-0.11],[48985,-0.102],[49020,-0.118],
	[49065,-0.126],[49110,-0.143],[49156,-0.167],[49201,-0.151],[49246,-0.126],[49292,-0.11],[49337,-0.07],[49382,-0.045],[49428,-0.029],[49473,-0.026],
	[49518,-0.037],[49563,-0.062],[49597,-0.094],[49620,-0.143],[49643,-0.224],[49665,-0.288],[49722,-0.313],[49813,-0.321],[49892,-0.329],[49971,-0.334],
	[50039,-0.34],[50130,-0.326],[50198,-0.321],[50255,-0.321],[50345,-0.28],[50425,-0.269],[50515,-0.248],[50606,-0.248],[50685,-0.256],[50764,-0.232],
	[50912,-0.224],[50968,-0.207],[51218,-0.204],[51274,-0.178],[51399,-0.164],[51535,-0.154],[51988,-0.147],
	[53065,-0.143],[53087,-0.11],[53121,-0.102],[53461,-0.094],[53529,-0.086],[53801,-0.086],[53858,-0.081],[54084,-0.07],[54141,-0.062],[54209,-0.05],
	[54628,-0.05],[54707,-0.05],[54787,-0.053],[54843,-0.049],
	[54877,-0.049],[54934,-0.045],[54990,-0.037],[55047,-0.033],[55104,-0.029],[55160,-0.025],[55217,-0.021],[55274,-0.016],[55330,-0.01],[55387,-0.003],
	[55444,0.015],[55500,0.03],[55557,0.04],[55614,0.046],[55670,0.049],[55727,0.05],[55784,0.055],[55840,0.05],[55897,0.055],[55954,0.052],
	[56010,0.05],[56067,0.06],[56124,0.047],[56180,0.039],[56237,0.028],[56294,0.02],[56350,0.011],[56407,0.003],[56464,-0.005],[56520,-0.013],
	[56577,-0.026],[56634,-0.01],[56690,0.008],[56747,0.02],[56804,0.028],[56860,0.015],[56917,0.004],[56974,-0.005],[57030,-0.013],[57087,-0.002],
	[57144,0.006],[57200,0.0],[57257,0.006],[57314,-0.005],[57370,-0.013],[57427,-0.01],[57484,-0.021],[57540,-0.037],[57597,-0.045],[57654,-0.042],
	[57710,-0.029],[57767,-0.045],[57824,-0.062],[57880,-0.07],[57937,-0.05],[57994,-0.037],[58050,-0.029],[58107,-0.026],[58164,-0.013],[58220,-0.026],
	[58277,-0.037],[58334,-0.013],[58390,-0.013],[58447,-0.037],[58504,-0.045],[58560,-0.05],[58617,-0.029],[58674,-0.013],[58730,-0.01],[58787,-0.013],
	[58844,-0.021],[58900,-0.029],[58957,-0.013],[59014,-0.005],[59070,0.006],[59127,-0.005],[59184,0.011],[59240,-0.005],[59297,-0.021],[59354,-0.013],
	[59410,0.003],[59467,0.011],[59524,-0.002],[59580,0.006],[59637,0.028],[59694,0.044],[59750,0.065],[59784,0.071],[59807,-0.002],[59864,-0.021],
	[59920,-0.016],[59977,-0.021]
];

var filtMag = [
	[47309,0.063],[47490,0.071],[47637,0.074],[47784,0.081],[47875,0.087],[47932,0.082],[47989,0.106],[48034,0.123],[48068,0.171],[48102,0.219],
	[48125,0.171],[48159,0.106],[48204,0.09],[48261,0.09],[48317,0.066],[48363,0.058],[48408,0.074],[48465,0.094],[48521,0.115],[48566,0.134],
	[48612,0.127],[48657,0.11],[48702,0.123],[48748,0.09],[48793,0.074],[48827,0.115],[48861,0.163],[48895,0.203],[48929,0.235],[48974,0.227],
	[49020,0.21],[49054,0.25],[49088,0.284],[49122,0.332],[49156,0.38],[49178,0.387],[49201,0.365],[49235,0.316],[49269,0.268],[49303,0.203],
	[49337,0.187],[49394,0.171],[49450,0.187],[49507,0.179],[49552,0.187],[49586,0.25],[49609,0.348],[49631,0.365],[49665,0.38],[49711,0.397],
	[49767,0.4],[49847,0.405],[49937,0.405],[50017,0.41],
	[50107,0.361],[50164,0.356],[50243,0.353],[50334,0.284],[50413,0.276],[50504,0.268],[50594,0.252],[50673,0.252],[50900,0.244],[50957,0.227],
	[51207,0.211],[51263,0.187],[51388,0.171],[51524,0.155],[51977,0.15],
	[53065,0.142],[53099,0.123],[53121,0.115],[53461,0.11],[53540,0.103],[53597,0.106],[53801,0.103],[53858,0.098],[54084,0.098],[54141,0.082],
	[54220,0.074],[54628,0.074],[54707,0.071],[54787,0.087],[54843,0.09],
	[54877,0.09],[54934,0.095],[54990,0.1],[55047,0.106],[55104,0.111],[55160,0.115],[55217,0.119],[55274,0.123],[55330,0.127],[55387,0.139],
	[55444,0.163],[55500,0.187],[55557,0.211],[55614,0.203],[55670,0.195],[55727,0.187],[55784,0.203],[55840,0.219],[55897,0.203],[55954,0.187],
	[56010,0.179],[56067,0.163],[56124,0.163],[56180,0.147],[56237,0.131],[56294,0.106],[56350,0.09],[56407,0.074],[56464,0.058],[56520,0.042],
	[56577,0.034],[56634,0.029],[56690,0.026],[56747,0.021],[56804,0.018],[56860,0.021],[56917,0.018],[56974,0.021],[57030,0.013],[57087,0.018],
	[57144,0.01],[57200,0.003],[57257,0.03],[57314,0.058],[57370,0.077],[57427,0.106],[57484,0.131],[57540,0.142],[57597,0.155],[57654,0.187],
	[57710,0.219],[57767,0.235],[57824,0.227],[57880,0.219],[57937,0.203],[57994,0.195],[58050,0.171],[58107,0.155],[58164,0.139],[58220,0.123],
	[58277,0.058],[58310,0.018],[58334,0.026],[58390,0.082],[58447,0.103],[58504,0.126],[58560,0.158],[58617,0.174],[58674,0.195],[58730,0.219],
	[58787,0.211],[58844,0.187],[58900,0.187],[58957,0.203],[59014,0.219],[59070,0.239],[59127,0.265],[59184,0.281],[59240,0.271],[59297,0.235],
	[59354,0.203],[59410,0.195],[59467,0.203],[59524,0.195],[59580,0.203],[59637,0.195],[59694,0.195],[59750,0.203],[59807,0.179],[59864,0.168],
	[59920,0.155],[59977,0.139]
];

var filtPA = [
	[47309,-170],[47490,-177],[47626,176],[47773,173],[47909,169],[47966,167],[48000,166],[48045,155],[48079,134],[48113,120],
	[48147,106],[48170,95],[48215,116],[48272,120],[48329,124],[48385,127],[48442,138],[48499,141],[48544,148],[48589,141],
	[48646,127],[48702,120],[48748,99],[48770,85],[48804,106],[48838,120],[48895,124],[48952,120],[49008,120],[49065,116],
	[49122,120],[49178,120],[49235,116],[49292,113],[49348,120],[49405,110],[49462,99],[49507,106],[49541,120],[49575,141],
	[49609,148],[49665,150],[49722,155],[49801,158],[49869,160],[49949,162],[50028,165],
	[50119,165],[50209,169],[50289,169],[50368,172],[50458,173],[50538,176],[50628,174],[50719,176],[50934,177],[51218,174],
	[51274,176],[51399,172],[51535,172],[51988,179],
	[53065,-173],[53087,-165],[53110,-155],[53461,-148],[53529,-146],[53597,-144],[53778,-145],[53858,-147],[54084,-145],[54141,-138],
	[54220,-135],[54628,-138],[54707,-135],[54787,-138],[54843,-135],
	[54877,-138],[54934,-117],[54990,-110],[55047,-108],[55104,-107],[55160,-106],[55217,-103],[55274,-99],[55330,-93],[55387,-90],
	[55444,-86],[55500,-82],[55557,-80],[55614,-78],[55670,-77],[55727,-78],[55784,-76],[55840,-75],[55897,-77],[55954,-74],
	[56010,-72],[56067,-71],[56124,-82],[56180,-84],[56237,-86],[56294,-90],[56350,-96],[56407,-93],[56464,-93],[56520,-107],
	[56554,-124],[56577,-140],[56611,-155],[56634,-150],[56668,-110],[56690,-100],[56747,-87],[56804,-89],[56838,-68],[56860,-33],
	[56883,-6],[56906,11],[56928,1],[56951,-54],[56974,-110],[57008,-138],[57030,-130],[57087,-110],[57144,-114],[57200,-117],
	[57223,-145],
	[57257,85],[57314,101],[57370,103],[57427,106],[57484,105],[57540,106],[57597,110],[57654,116],[57710,107],[57767,110],
	[57824,106],[57880,107],[57937,105],[57994,106],[58050,99],[58107,92],[58164,99],[58220,88],[58277,106],[58310,113],
	[58334,-110],[58356,-138],[58390,-110],[58447,-103],[58504,-96],[58560,-93],[58617,-89],[58674,-93],[58730,-96],[58787,-89],
	[58844,-93],[58900,-89],[58957,-96],[59014,-89],[59070,-93],[59127,-85],[59184,-92],[59240,-93],[59297,-89],[59354,-96],
	[59410,-89],[59467,-85],[59524,-89],[59580,-82],[59637,-80],[59694,-75],[59750,-89],[59807,-100],[59864,-96],[59920,-99],
	[59977,-100]
];

// side histograms: bin counts listed from the top bin down
var histTopRA = 0.38, histStepRA = 0.0116;
var histRawRA = [2.4,3.5,3,1.5,2,3.2,3,3.8,4.4,4.7,5,5.2,5.2,4.7,7.2,5.8,5.8,5.8,6,6.4,6,6.4,6,5.8,8,5.2,5.2,4.7,5.2,8.7,8,6.4,3.8,2.4,6.4,8.7,8.7,6.7,5.5,9.8,8.4,5,8.7,5.8,6,7,11,11,8.7,8.4,11.8,7.2,5,7,8,6.7,4,3.2,3];
var histFiltRA = [0,0,0,4.4,4,1,1.5,1,1,1.5,2,2,3,6.3,12,13.8,10.3,12.1,5.2,6.4,21.5,15.2,7,5,5,4.5,5,5,7.2,7.8,6,6.1,4,1.8,13.2,10,5,4,3,3.5,4,4,4,6.4,6.4,7.8,14,12.4,21.5,27.7,12,4,2.5,4,4,3,2,0,0];

var histTopDEC = 0.079, histStepDEC = 0.0077;
var histRawDEC = [3.4,6.2,7.5,4.7,10,7.8,8.8,7.2,9.3,8.2,10.6,10.3,9.3,9,9,12.1,9.3,6.7,6.7,7.8,7.8,6.7,7,3.9,3.7,6.2,6.2,5.7,6,5.7,3.7,3.9,3.2,4.7,2.7,4.4,3.2,2.1,2.9,1.1,0.6,1.6,1.9,2.7,2.1,1.6,1.6,1.1,0.4,1.9,0.4,0.6,0.9,1.4,1.1,0.2,0.4,0.6,1.9];
var histFiltDEC = [0,0,0,11.3,3.2,8.5,7.2,6.7,7.2,10.3,10.3,19.5,24.8,18.7,21.8,9.3,11.3,10.8,10.8,10.5,7.5,5.2,4.7,5.2,10,3.2,3.2,6.7,2.7,2.7,2.7,2.7,2.4,1.9,1.1,0.6,0,0,0,0,0,0,0,0,0,0,0,0,0,0,0,0,0,0,0,0,0,0,0];

var histTopMag = 0.453, histStepMag = 0.0072;
var histRawMag = [1.4,1.8,3.5,1.1,1.4,2.7,1.9,2.5,1.8,3.0,3.3,4.1,3.1,3.8,4.0,4.1,4.6,4.1,3.4,4.3,3.3,5.4,5.9,4.0,4.0,8.9,7.5,7.5,4.3,4.8,6.1,6.8,9.4,10.2,7.1,7.3,6.8,9.6,8.2,4.4,7.7,6.1,8.1,5.4,3.6,6.7,5.9,5.9,4.5,4.3,5.9,4.3,3.6,3.8,3.8,3.6,3.8,3.3,2.9,0.4,1.8,1.1,0.25];
var histFiltMag = [0,0,0,0,0,0,0.4,0.8,1.3,1.5,1.8,2.0,2.2,1.8,2.2,0.4,0.25,1.3,0.6,0.4,0.8,0.8,1.1,4.3,3.8,3.4,4.0,3.6,2.5,6.4,9.5,8.0,13.3,10.0,14.2,16.3,10.0,11.2,10.5,8.9,13.5,17.2,5.5,8.9,4.7,5.7,6.9,4.8,5.4,4.8,4.0,5.4,8.3,4.0,3.1,1.5,1.3,2.5,3.1,8.4,5.7,2.9,0.4];

var histTopPA = 180, histStepPA = 5.714;
var histRawPA = [1.0,1.9,2.0,2.4,2.0,3.7,3.6,2.9,4.1,4.1,4.9,4.3,4.9,4.9,5.1,3.7,2.6,3.9,3.1,2.9,1.4,1.9,1.1,1.2,1.6,1.5,1.4,1.4,1.4,1.2,1.0,1.3,0.8,0.9,1.6,1.2,1.8,1.8,1.0,1.8,3.4,2.9,3.9,4.5,6.0,6.8,5.8,6.2,7.0,6.6,4.3,2.8,3.3,2.6,2.4,2.7,1.4,1.4,1.4,2.5,2.4,2.2,1.1];
var histFiltPA = [0.5,0.8,1.0,1.2,0.8,2.0,3.1,1.6,2.4,2.8,6.4,18.6,18.3,9.7,13.3,6.4,2.4,0.5,0.8,0.5,0,0,0,0,0,0,0,0,0,0,0,0,0,0,0,0,0,0,2.2,0,0,0,0.3,0.8,10.9,8.8,5.8,16.9,16.9,6.7,4.1,2.6,1.6,1.4,1.2,1.4,0.8,0.5,0.8,0.65,0.5,0.3,0];

var strLabels = [['RA', '0.63'], ['DEC', '0.41'], ['Tot', '0.41']];

var mainL = 77, mainR = 1207, histL = 1219, histR = 1388;
var rows = [[73, 353], [353, 635], [635, 916], [916, 1197]];

var panels = [
	{raw: rawRA, filt: filtRA, hTop: histTopRA, hStep: histStepRA, hRaw: histRawRA, hFilt: histFiltRA, hMax: 29,
		domain: [-0.307, 0.385], major: d3.range(-3, 4).map(function(k) { return k / 10; }), minor: d3.range(-15, 20).map(function(k) { return k * 0.02; }),
		color: '#2c63a2', label: 'Δ RA·cos(DEC) (mas)', fmt: d3.format('.1f'), zero: true},
	{raw: rawDEC, filt: filtDEC, hTop: histTopDEC, hStep: histStepDEC, hRaw: histRawDEC, hFilt: histFiltDEC, hMax: 26,
		domain: [-0.378, 0.079], major: d3.range(-3, 1).map(function(k) { return k / 10; }), minor: d3.range(-18, 4).map(function(k) { return k * 0.02; }),
		color: '#4e6b2b', label: 'Δ DEC (mas)', fmt: d3.format('.1f'), zero: true},
	{raw: rawMag, filt: filtMag, hTop: histTopMag, hStep: histStepMag, hRaw: histRawMag, hFilt: histFiltMag, hMax: 18,
		domain: [0, 0.453], major: d3.range(0, 5).map(function(k) { return k / 10; }), minor: d3.range(0, 23).map(function(k) { return k * 0.02; }),
		color: '#e6820e', label: 'Offset Magnitude (mas)', fmt: d3.format('.1f'), zero: false},
	{raw: rawPA, filt: filtPA, hTop: histTopPA, hStep: histStepPA, hRaw: histRawPA, hFilt: histFiltPA, hMax: 19.5,
		domain: [-192.5, 201], major: [-180, -90, 0, 90, 180], minor: d3.range(-8, 9).map(function(k) { return k * 22.5; }),
		color: '#b23e10', label: 'Offset P.A. (deg, CCW from N)', fmt: d3.format('d'), zero: true}
];

var svg = d3.select('#chart');
var x = d3.scaleLinear().domain(mjdDomain).range([mainL, mainR]);
var noLabel = function() { return ''; };

function mjdToDate(m) {
	return new Date(Date.UTC(1858, 10, 17) + m * 86400000);
}

function addAxis(axis, tx, ty) {
	var g = svg.append('g')
		.attr('transform', 'translate(' + tx + ',' + ty + ')')
		.call(axis)
		.attr('font-family', null)
		.attr('font-size', 16);
	g.select('.domain').remove();
	g.selectAll('line').attr('stroke', '#222').attr('stroke-width', 1);
	g.selectAll('text').attr('fill', '#111');
	return g;
}

// split a filtered series where the sampling is sparse or the value jumps
function runs(pts, maxGap, maxJump) {
	var out = [], cur = [pts[0]];
	for (var i = 1; i < pts.length; i++) {
		var a = pts[i - 1], b = pts[i];
		if (b[0] - a[0] <= maxGap && Math.abs(b[1] - a[1]) <= maxJump) cur.push(b);
		else { out.push(cur); cur = [b]; }
	}
	out.push(cur);
	return out;
}

panels.forEach(function(p, i) {
	var top = rows[i][0], bottom = rows[i][1];
	var y = d3.scaleLinear().domain(p.domain).range([bottom, top]);
	var hx = d3.scaleLinear().domain([0, p.hMax]).range([histL, histR]);
	var inDomain = function(v) { return v >= p.domain[0] - 1e-9 && v <= p.domain[1] + 1e-9; };
	var majorY = p.major.filter(inDomain);
	var minorY = p.minor.filter(inDomain);

	svg.append('clipPath').attr('id', 'clip' + i)
		.append('rect')
		.attr('x', mainL).attr('y', top)
		.attr('width', mainR - mainL).attr('height', bottom - top);

	var plot = svg.append('g').attr('clip-path', 'url(#clip' + i + ')');

	if (p.zero) {
		plot.append('line')
			.attr('x1', mainL).attr('x2', mainR)
			.attr('y1', y(0)).attr('y2', y(0))
			.attr('stroke', '#444').attr('stroke-width', 1)
			.attr('stroke-dasharray', '5,3');
	}
	if (i === 3) {
		[90, -90].forEach(function(v) {
			plot.append('line')
				.attr('x1', mainL).attr('x2', mainR)
				.attr('y1', y(v)).attr('y2', y(v))
				.attr('stroke', '#777').attr('stroke-width', 0.8)
				.attr('stroke-dasharray', '1.5,1.5');
		});
	}

	plot.append('g').selectAll('circle')
		.data(p.raw)
		.enter().append('circle')
		.attr('cx', function(d) { return x(d[0]); })
		.attr('cy', function(d) { return y(d[1]); })
		.attr('r', 1.8)
		.attr('fill', '#707070');

	var span = p.domain[1] - p.domain[0];
	var line = d3.line()
		.x(function(d) { return x(d[0]); })
		.y(function(d) { return y(d[1]); });
	plot.append('g').selectAll('path')
		.data(runs(p.filt, 85, span * 0.3).filter(function(r) { return r.length > 1; }))
		.enter().append('path')
		.attr('d', line)
		.attr('fill', 'none')
		.attr('stroke', p.color)
		.attr('stroke-width', 8)
		.attr('stroke-linecap', 'round')
		.attr('stroke-linejoin', 'round');
	plot.append('g').selectAll('circle')
		.data(p.filt)
		.enter().append('circle')
		.attr('cx', function(d) { return x(d[0]); })
		.attr('cy', function(d) { return y(d[1]); })
		.attr('r', 4)
		.attr('fill', p.color);

	// histograms
	var hg = svg.append('g');
	hg.selectAll('rect.raw')
		.data(p.hRaw)
		.enter().append('rect')
		.attr('class', 'raw')
		.attr('x', histL)
		.attr('y', function(d, k) { return y(p.hTop - k * p.hStep); })
		.attr('width', function(d) { return hx(d) - histL; })
		.attr('height', function(d, k) { return y(p.hTop - (k + 1) * p.hStep) - y(p.hTop - k * p.hStep); })
		.attr('fill', '#5c5c5c').attr('fill-opacity', 0.8)
		.attr('stroke', '#222').attr('stroke-width', 0.8);
	hg.selectAll('rect.filt')
		.data(p.hFilt)
		.enter().append('rect')
		.attr('class', 'filt')
		.attr('x', histL)
		.attr('y', function(d, k) { return y(p.hTop - k * p.hStep); })
		.attr('width', function(d) { return hx(d) - histL; })
		.attr('height', function(d, k) { return y(p.hTop - (k + 1) * p.hStep) - y(p.hTop - k * p.hStep); })
		.attr('fill', p.color).attr('fill-opacity', 0.5)
		.attr('stroke', p.color).attr('stroke-opacity', 0.8).attr('stroke-width', 0.8);

	// y ticks on both sides of both axes
	addAxis(d3.axisLeft(y).tickValues(majorY).tickSize(-7).tickPadding(5).tickFormat(p.fmt), mainL, 0);
	addAxis(d3.axisLeft(y).tickValues(minorY).tickSize(-3.5).tickFormat(noLabel), mainL, 0);
	addAxis(d3.axisRight(y).tickValues(majorY).tickSize(-7).tickFormat(noLabel), mainR, 0);
	addAxis(d3.axisRight(y).tickValues(minorY).tickSize(-3.5).tickFormat(noLabel), mainR, 0);
	addAxis(d3.axisLeft(y).tickValues(majorY).tickSize(-7).tickFormat(noLabel), histL, 0);
	addAxis(d3.axisLeft(y).tickValues(minorY).tickSize(-3.5).tickFormat(noLabel), histL, 0);
	addAxis(d3.axisRight(y).tickValues(majorY).tickSize(-7).tickFormat(noLabel), histR, 0);
	addAxis(d3.axisRight(y).tickValues(minorY).tickSize(-3.5).tickFormat(noLabel), histR, 0);

	// MJD ticks on top and bottom
	var majorX = d3.range(48000, 60001, 2000);
	var minorX = d3.range(47500, 60001, 500);
	addAxis(d3.axisTop(x).tickValues(majorX).tickSize(-7).tickFormat(noLabel), 0, top);
	addAxis(d3.axisTop(x).tickValues(minorX).tickSize(-3.5).tickFormat(noLabel), 0, top);
	addAxis(d3.axisBottom(x).tickValues(majorX).tickSize(-7).tickPadding(9).tickFormat(i === 3 ? d3.format('d') : noLabel), 0, bottom);
	addAxis(d3.axisBottom(x).tickValues(minorX).tickSize(-3.5).tickFormat(noLabel), 0, bottom);

	// count ticks on histogram panels
	var majorH = d3.range(0, p.hMax, 10);
	var minorH = d3.range(0, p.hMax, 2);
	addAxis(d3.axisTop(hx).tickValues(majorH).tickSize(-7).tickFormat(noLabel), 0, top);
	addAxis(d3.axisTop(hx).tickValues(minorH).tickSize(-3.5).tickFormat(noLabel), 0, top);
	addAxis(d3.axisBottom(hx).tickValues(majorH).tickSize(-7).tickFormat(noLabel), 0, bottom);
	addAxis(d3.axisBottom(hx).tickValues(minorH).tickSize(-3.5).tickFormat(noLabel), 0, bottom);

	svg.append('rect')
		.attr('x', mainL).attr('y', top)
		.attr('width', mainR - mainL).attr('height', bottom - top)
		.attr('fill', 'none').attr('stroke', '#222').attr('stroke-width', 1.4);
	svg.append('rect')
		.attr('x', histL).attr('y', top)
		.attr('width', histR - histL).attr('height', bottom - top)
		.attr('fill', 'none').attr('stroke', '#222').attr('stroke-width', 1.4);

	svg.append('text')
		.attr('transform', 'translate(27,' + (top + bottom) / 2 + ') rotate(-90)')
		.attr('text-anchor', 'middle')
		.attr('font-size', 16.5)
		.attr('fill', '#111')
		.text(p.label);

	if (i < 3) {
		var st = svg.append('text')
			.attr('x', 100).attr('y', top + 28)
			.attr('font-size', 16)
			.attr('fill', '#111');
		st.append('tspan').text('STR');
		st.append('tspan').attr('font-size', 12).attr('dy', 4).text(strLabels[i][0]);
		st.append('tspan').attr('dy', -4).text(' = ' + strLabels[i][1] + ' mas');
	}
});

// calendar axis along the top
var years = d3.scaleUtc().domain(mjdDomain.map(mjdToDate)).range([mainL, mainR]);
addAxis(d3.axisTop(years).ticks(d3.utcYear.every(4)).tickSize(-7).tickPadding(9).tickFormat(d3.utcFormat('%Y')), 0, rows[0][0]);
addAxis(d3.axisTop(years).ticks(d3.utcYear.every(1)).tickSize(-3.5).tickFormat(noLabel), 0, rows[0][0]);

svg.append('text')
	.attr('x', (mainL + mainR) / 2).attr('y', 46)
	.attr('text-anchor', 'middle').attr('font-size', 16).attr('fill', '#111')
	.text('Date');
svg.append('text')
	.attr('x', (mainL + mainR) / 2).attr('y', 24)
	.attr('text-anchor', 'middle').attr('font-size', 20).attr('fill', '#111')
	.text('120-day Window Covariance-Weighted Mean Filter, 0016+731');
svg.append('text')
	.attr('x', (mainL + mainR) / 2).attr('y', 1239)
	.attr('text-anchor', 'middle').attr('font-size', 16).attr('fill', '#111')
	.text('MJD');

// legend
var lg = svg.append('g');
lg.append('rect')
	.attr('x', 80).attr('y', 305).attr('width', 205).attr('height', 43)
	.attr('rx', 3)
	.attr('fill', '#fff').attr('fill-opacity', 0.85)
	.attr('stroke', '#d0d0d0');
lg.append('circle').attr('cx', 104).attr('cy', 317).attr('r', 1.8).attr('fill', '#707070');
lg.append('circle').attr('cx', 104).attr('cy', 336).attr('r', 3.2).attr('fill', panels[0].color);
lg.append('text').attr('x', 123).attr('y', 321.5).attr('font-size', 13).attr('fill', '#111').text('Raw data');
lg.append('text').attr('x', 123).attr('y', 340.5).attr('font-size', 13).attr('fill', '#111').text('Filter Window = 120 Days');
</script>
</body>
</html>
